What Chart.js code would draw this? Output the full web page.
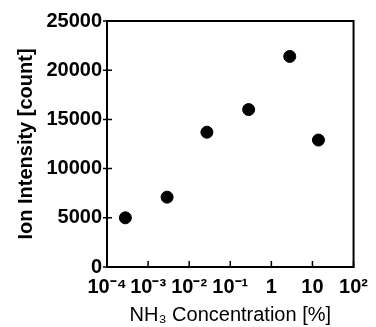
<!DOCTYPE html>
<html><head><meta charset="utf-8">
<script src="https://cdn.jsdelivr.net/npm/chart.js@4.4.1/dist/chart.umd.min.js"></script>
<style>html,body{margin:0;padding:0;background:#fff}#wrap{width:376px;height:327px}</style>
</head><body><div id="wrap"><canvas id="c" width="376" height="327"></canvas></div>
<script>
const concentrations = [2.8e-4, 2.9e-3, 0.027, 0.28, 2.8, 14];
const intensities = [5000, 7100, 13700, 16000, 21400, 12900];
const xTickValues = [1e-4, 1e-3, 1e-2, 1e-1, 1, 10, 100];
const xTickLabels = ['10\u207B\u2074', '10\u207B\u00B3', '10\u207B\u00B2', '10\u207B\u00B9', '1', '10', '10\u00B2'];
const yTickValues = [0, 5000, 10000, 15000, 20000, 25000];
const xTitle = 'NH\u2083 Concentration [%]';
const yTitle = 'Ion Intensity [count]';

const FONT = "'Liberation Sans', Arial, Helvetica, sans-serif";

const framePlugin = {
  id: 'frame',
  beforeDatasetsDraw(chart) {
    const {ctx, chartArea: a, scales: {x, y}} = chart;
    ctx.save();
    ctx.strokeStyle = '#000';
    ctx.lineWidth = 2;
    ctx.strokeRect(a.left, a.top, a.right - a.left, a.bottom - a.top);
    ctx.lineWidth = 1.5;
    ctx.beginPath();
    yTickValues.forEach(v => { const py = y.getPixelForValue(v); ctx.moveTo(a.left - 4, py); ctx.lineTo(a.left + 5, py); });
    xTickValues.forEach(v => { const px = x.getPixelForValue(v); ctx.moveTo(px, a.bottom + 1); ctx.lineTo(px, a.bottom - 6); });
    ctx.stroke();
    ctx.restore();
  }
};

new Chart(document.getElementById('c'), {
  type: 'scatter',
  data: {
    datasets: [{
      data: concentrations.map((c, i) => ({x: c, y: intensities[i]})),
      backgroundColor: '#000',
      borderColor: '#000',
      pointRadius: 6,
      pointHoverRadius: 6,
      showLine: false
    }]
  },
  options: {
    responsive: false,
    animation: false,
    events: [],
    layout: {padding: {left: 14, right: 22, top: 21, bottom: 0}},
    plugins: {legend: {display: false}, tooltip: {enabled: false}},
    scales: {
      x: {
        type: 'logarithmic',
        min: 1e-4,
        max: 100,
        afterBuildTicks: s => { s.ticks = xTickValues.map(v => ({value: v})); },
        afterFit: s => { s.height = 60; },
        grid: {display: false, drawTicks: false},
        border: {display: false},
        ticks: {
          autoSkip: false, maxRotation: 0, minRotation: 0, padding: 8,
          color: '#000',
          font: {family: FONT, size: 20, weight: 'bold'},
          callback: (v, i) => xTickLabels[i]
        },
        title: {
          display: true, text: xTitle, color: '#000',
          font: {family: FONT, size: 20, weight: 'normal'},
          padding: {top: 0, bottom: 0}
        }
      },
      y: {
        min: 0,
        max: 25000,
        afterBuildTicks: s => { s.ticks = yTickValues.map(v => ({value: v})); },
        afterFit: s => { s.width = 93; },
        grid: {display: false, drawTicks: false},
        border: {display: false},
        ticks: {
          padding: 5, color: '#000',
          font: {family: FONT, size: 20, weight: 'bold'},
          callback: v => String(v)
        },
        title: {
          display: true, text: yTitle, color: '#000',
          font: {family: FONT, size: 20, weight: 'bold'},
          padding: {top: 0, bottom: 0}
        }
      }
    }
  },
  plugins: [framePlugin]
});
</script>
</body></html>
